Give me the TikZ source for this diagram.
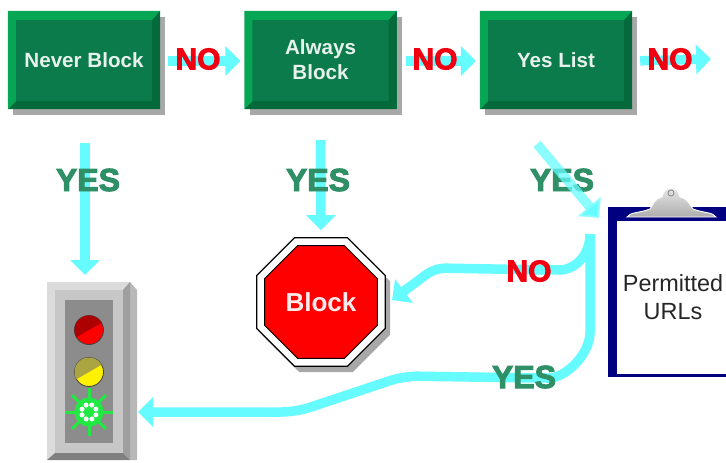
\documentclass[tikz,border=0pt]{standalone}
\usepackage{fontspec}
\setmainfont{Liberation Sans}
\newfontfamily\heavyfont[BoldFeatures={FakeBold=3}]{Liberation Sans}
\usetikzlibrary{arrows.meta,positioning,calc,shapes.geometric,shadows}
\definecolor{face}{HTML}{0B7B4C}
\definecolor{lit}{HTML}{07A655}
\definecolor{deep}{HTML}{056A3B}
\definecolor{shade}{HTML}{A8A8A8}
\definecolor{flow}{HTML}{66FBFF}
\definecolor{yesgreen}{HTML}{2F8F67}
\definecolor{nored}{HTML}{F00010}
\definecolor{navy}{HTML}{000080}
\definecolor{glow}{HTML}{22E844}
\tikzset{flowbox/.style={fill=face,minimum width=152pt,minimum height=98pt,inner sep=0pt,align=center,text=white!90!face,
 font=\bfseries\fontsize{20.6}{25}\selectfont,drop shadow={shadow xshift=5pt,shadow yshift=-6pt,fill=shade,opacity=1}},
 flowarrow/.style={-{Triangle[length=15pt,width=29pt]},draw=flow,line width=9.5pt},
 nolabel/.style={text=nored,font=\heavyfont\bfseries\fontsize{30}{30}\selectfont,inner sep=0pt},
 yeslabel/.style={text=yesgreen,font=\heavyfont\bfseries\fontsize{32}{32}\selectfont,inner sep=0pt},
 octa/.style={regular polygon,regular polygon sides=8,inner sep=0pt},
 lamp/.style={circle,draw=black!75,line width=0.8pt,minimum size=29pt,inner sep=0pt,outer sep=0pt}}
\begin{document}
\begin{tikzpicture}[x=1pt,y=-1pt]
\useasboundingbox (0,0) rectangle (726,463);
\node[flowbox] (never) at (84,60) {Never Block};
\node[flowbox] (always) at (320.5,60) {Always\\Block};
\node[flowbox] (yeslist) at (556,60) {Yes List};
% bevels round the boxes
\foreach \b in {never,always,yeslist}{
 \fill[deep] (\b.north east)--(\b.south east)--(\b.south west)--([shift={(8,-8)}]\b.south west)--([shift={(-8,-8)}]\b.south east)--([shift={(-8,9)}]\b.north east)--cycle;
 \fill[lit] (\b.south west)--(\b.north west)--(\b.north east)--([shift={(-8,9)}]\b.north east)--([shift={(8,9)}]\b.north west)--([shift={(8,-8)}]\b.south west)--cycle;
}
% stop sign
\node[octa,fill=white,draw=black,line width=1.3pt,minimum size=139pt,drop shadow={shadow xshift=5pt,shadow yshift=-6pt,fill=shade,opacity=1}] (stop) at (321,302) {};
\node[octa,fill=red,draw=black,line width=0.8pt,minimum size=122pt,text=white!92!red,font=\bfseries\fontsize{26}{26}\selectfont] (stoptext) at (321,302) {Block};
% traffic light
\fill[black!28] (130,282)--(137,290)--(137,460)--(130,460)--cycle;
\node[fill=black!14,minimum width=83pt,minimum height=178pt,inner sep=0pt] (light) at (88.5,371) {};
\fill[black!38] (light.north east)--(light.south east)--([shift={(-7,-7)}]light.south east)--([shift={(-7,8)}]light.north east)--cycle;
\fill[black!50] (light.south west)--(light.south east)--([shift={(-7,-7)}]light.south east)--([shift={(8,-7)}]light.south west)--cycle;
\node[fill=black!22,minimum width=68pt,minimum height=163pt,inner sep=0pt] (ring) at (89,371.5) {};
\node[fill=black!45,minimum width=48pt,minimum height=143pt,inner sep=0pt] (panel) at (89,371.5) {};
\node[lamp,fill=red] (redlamp) at (89,330) {};
\fill[red!68!black] (redlamp.30) arc[start angle=30,end angle=210,radius=14.5pt]--cycle;
\node[lamp,fill=yellow] (ambera) at (89,372) {};
\fill[yellow!62!black] (ambera.30) arc[start angle=30,end angle=210,radius=14.5pt]--cycle;
\coordinate (greenmid) at (89,412);
\foreach \a in {0,45,...,315}
 \draw[glow,line width=3pt] (greenmid)--++(\a:24);
\node[circle,fill=glow,minimum size=29pt,inner sep=0pt] (greenlamp) at (greenmid) {};
\foreach \a in {0,45,...,315}
 \fill[white] (greenmid)++(\a+22:7.5) circle (2.5);
% clipboard
\node[fill=navy,minimum width=122pt,minimum height=170pt,inner sep=0pt] (board) at (669,292) {};
\node[fill=white,minimum width=114pt,minimum height=153pt,inner sep=0pt] (paper) at (674,297.5) {};
\node[inner sep=0pt,align=center,font=\fontsize{23.4}{28}\selectfont,text=black!85] (urls) at (673,297) {Permitted\\URLs};
\shade[top color=black!8,bottom color=black!32,draw=white,line width=0.9pt] (627,217) .. controls (630,212) and (640,213) .. (650,209) .. controls (653,206) and (653,199) .. (662,197) .. controls (664,185) and (678,185) .. (680,197) .. controls (689,199) and (690,206) .. (693,209) .. controls (703,213) and (713,212) .. (716,217)--cycle;
\draw[black!50,line width=0.7pt] (671,193) circle (3);
% connectors
\coordinate (outno) at (711,59);
\coordinate (tail) at (537,144);
\coordinate (merge) at (599,218);
\coordinate (fork) at (590,234);
\coordinate (lightin) at (138,412);
\coordinate (stopin) at (392,300);
\draw[flowarrow] ([yshift=-1pt]never.east)--([yshift=-1pt]always.west) [shorten <=8pt,shorten >=4pt];
\draw[flowarrow] ([yshift=-1pt]always.east)--([yshift=-1pt]yeslist.west) [shorten <=9pt,shorten >=4pt];
\draw[flowarrow] ([yshift=-1pt]yeslist.east)--(outno) [shorten <=8pt];
\draw[flowarrow] (never.south -| 85,0)--(85,275) [shorten <=34pt];
\draw[flowarrow] (always.south)--(stop.north) [shorten <=31pt,shorten >=7pt];
\draw[flowarrow,rounded corners=10pt] (fork) .. controls (590,258) and (572,270) .. (550,270)--(435,268)--(stopin);
\draw[flowarrow,rounded corners=14pt] (fork)--(590,318) .. controls (590,355) and (565,378) .. (535,378)--(404,376)--(296,412)--(lightin);
% labels
\node[nolabel] (no1) at (198,59) {NO};
\node[nolabel] (no2) at (435,59) {NO};
\node[nolabel] (no3) at (670,59) {NO};
\node[nolabel] (no4) at (529,271) {NO};
\node[yeslabel] (yes1) at (88,180) {YES};
\node[yeslabel] (yes2) at (318,180) {YES};
\node[yeslabel] (yes3) at (562,180) {YES};
\node[yeslabel] (yes4) at (524,377) {YES};
\draw[flowarrow,draw opacity=0.75] (tail)--(merge);
\end{tikzpicture}
\end{document}
